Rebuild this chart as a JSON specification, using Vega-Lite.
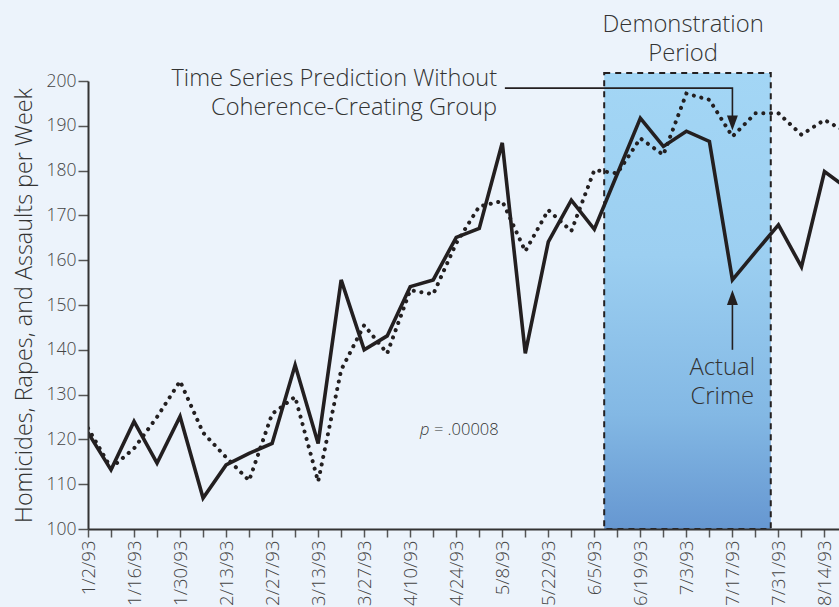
{
  "$schema": "https://vega.github.io/schema/vega-lite/v6.json",
  "width": 751,
  "height": 448,
  "autosize": {"type": "none"},
  "padding": {"left": 88, "top": 81, "right": 0, "bottom": 78},
  "background": "#ecf3fb",
  "config": {"view": {"stroke": null}, "font": "Open Sans"},
  "encoding": {
    "x": {
      "field": "date",
      "type": "temporal",
      "scale": {"domain": [{"year": 1993, "month": 1, "date": 2}, {"year": 1993, "month": 8, "date": 18, "hours": 10}]},
      "axis": {
        "title": null,
        "grid": false,
        "values": [
          {"year": 1993, "month": 1, "date": 2}, {"year": 1993, "month": 1, "date": 9}, {"year": 1993, "month": 1, "date": 16}, {"year": 1993, "month": 1, "date": 23}, {"year": 1993, "month": 1, "date": 30},
          {"year": 1993, "month": 2, "date": 6}, {"year": 1993, "month": 2, "date": 13}, {"year": 1993, "month": 2, "date": 20}, {"year": 1993, "month": 2, "date": 27},
          {"year": 1993, "month": 3, "date": 6}, {"year": 1993, "month": 3, "date": 13}, {"year": 1993, "month": 3, "date": 20}, {"year": 1993, "month": 3, "date": 27},
          {"year": 1993, "month": 4, "date": 3}, {"year": 1993, "month": 4, "date": 10}, {"year": 1993, "month": 4, "date": 17}, {"year": 1993, "month": 4, "date": 24},
          {"year": 1993, "month": 5, "date": 1}, {"year": 1993, "month": 5, "date": 8}, {"year": 1993, "month": 5, "date": 15}, {"year": 1993, "month": 5, "date": 22}, {"year": 1993, "month": 5, "date": 29},
          {"year": 1993, "month": 6, "date": 5}, {"year": 1993, "month": 6, "date": 12}, {"year": 1993, "month": 6, "date": 19}, {"year": 1993, "month": 6, "date": 26},
          {"year": 1993, "month": 7, "date": 3}, {"year": 1993, "month": 7, "date": 10}, {"year": 1993, "month": 7, "date": 17}, {"year": 1993, "month": 7, "date": 24}, {"year": 1993, "month": 7, "date": 31},
          {"year": 1993, "month": 8, "date": 7}, {"year": 1993, "month": 8, "date": 14}
        ],
        "labelExpr": "round((datum.value - datetime(1993,0,2)) / 604800000) % 2 == 0 ? timeFormat(datum.value, '%-m/%-d/%y') : ''",
        "labelAngle": -90,
        "labelFont": "Open Sans",
        "labelFontWeight": 300,
        "labelFontSize": 18.5,
        "labelColor": "#444444",
        "labelPadding": 3,
        "labelOverlap": false,
        "labelFlush": false,
        "tickSize": 8,
        "tickWidth": 1.5,
        "tickColor": "#555555",
        "domainColor": "#333333",
        "domainWidth": 2,
        "zindex": 1
      }
    },
    "y": {
      "field": "value",
      "type": "quantitative",
      "scale": {"domain": [100, 200], "nice": false, "zero": false},
      "axis": {
        "title": "Homicides, Rapes, and Assaults per Week",
        "titleFont": "Open Sans",
        "titleFontWeight": 300,
        "titleFontSize": 23.4,
        "titleColor": "#333333",
        "titlePadding": 10,
        "grid": false,
        "values": [100, 110, 120, 130, 140, 150, 160, 170, 180, 190, 200],
        "labelFont": "Open Sans",
        "labelFontWeight": 300,
        "labelFontSize": 17.5,
        "labelColor": "#444444",
        "labelPadding": 2,
        "tickSize": 10,
        "tickWidth": 1.5,
        "tickColor": "#555555",
        "domainColor": "#333333",
        "domainWidth": 2,
        "zindex": 1
      }
    }
  },
  "layer": [
    {
      "data": {
        "values": [{"date": "1993-06-08T00:00", "date2": "1993-07-28T16:00", "value": 201.8, "value2": 100}],
        "format": {"parse": {"date": "date", "date2": "date"}}
      },
      "mark": {
        "type": "rect",
        "fill": {"gradient": "linear", "x1": 0, "y1": 0, "x2": 0, "y2": 1, "stops": [
          {"offset": 0, "color": "#a3d6f5"},
          {"offset": 0.4, "color": "#9ccff1"},
          {"offset": 0.75, "color": "#83b8e4"},
          {"offset": 1, "color": "#6697d1"}
        ]},
        "stroke": "#231f20",
        "strokeWidth": 2,
        "strokeDash": [6, 5]
      },
      "encoding": {"x2": {"field": "date2"}, "y2": {"field": "value2"}}
    },
    {
      "data": {
        "name": "crime",
        "values": [
          {"date": "1993-01-02T00:00", "actual": 121.5, "predicted": 122.5},
          {"date": "1993-01-09T00:00", "actual": 113.2, "predicted": 113.6},
          {"date": "1993-01-16T00:00", "actual": 124.0, "predicted": 118.0},
          {"date": "1993-01-23T00:00", "actual": 114.7, "predicted": 125.0},
          {"date": "1993-01-30T00:00", "actual": 125.1, "predicted": 133.0},
          {"date": "1993-02-06T00:00", "actual": 106.9, "predicted": 121.5},
          {"date": "1993-02-13T00:00", "actual": 114.3, "predicted": 116.0},
          {"date": "1993-02-20T00:00", "actual": 116.9, "predicted": 110.8},
          {"date": "1993-02-27T00:00", "actual": 119.1, "predicted": 125.7},
          {"date": "1993-03-06T00:00", "actual": 136.6, "predicted": 129.5},
          {"date": "1993-03-13T00:00", "actual": 119.1, "predicted": 110.6},
          {"date": "1993-03-20T00:00", "actual": 155.6, "predicted": 135.5},
          {"date": "1993-03-27T00:00", "actual": 140.0, "predicted": 145.5},
          {"date": "1993-04-03T00:00", "actual": 143.1, "predicted": 139.2},
          {"date": "1993-04-10T00:00", "actual": 154.1, "predicted": 153.3},
          {"date": "1993-04-17T00:00", "actual": 155.6, "predicted": 152.4},
          {"date": "1993-04-24T00:00", "actual": 165.1, "predicted": 163.8},
          {"date": "1993-05-01T00:00", "actual": 167.1, "predicted": 172.0},
          {"date": "1993-05-08T00:00", "actual": 186.2, "predicted": 173.2},
          {"date": "1993-05-15T00:00", "actual": 139.2, "predicted": 162.0},
          {"date": "1993-05-22T00:00", "actual": 164.1, "predicted": 171.2},
          {"date": "1993-05-29T00:00", "actual": 173.4, "predicted": 166.5},
          {"date": "1993-06-05T00:00", "actual": 166.9, "predicted": 180.1},
          {"date": "1993-06-12T00:00", "actual": 179.3, "predicted": 179.4},
          {"date": "1993-06-19T00:00", "actual": 191.7, "predicted": 187.2},
          {"date": "1993-06-26T00:00", "actual": 185.4, "predicted": 183.5},
          {"date": "1993-07-03T00:00", "actual": 188.8, "predicted": 197.2},
          {"date": "1993-07-10T00:00", "actual": 186.5, "predicted": 195.8},
          {"date": "1993-07-17T00:00", "actual": 155.6, "predicted": 187.6},
          {"date": "1993-07-24T00:00", "actual": 161.8, "predicted": 192.8},
          {"date": "1993-07-31T00:00", "actual": 167.9, "predicted": 192.8},
          {"date": "1993-08-07T00:00", "actual": 158.5, "predicted": 188.0},
          {"date": "1993-08-14T00:00", "actual": 179.8, "predicted": 191.3},
          {"date": "1993-08-21T00:00", "actual": 176.0, "predicted": 188.5}
        ],
        "format": {"parse": {"date": "date"}}
      },
      "transform": [{"fold": ["actual", "predicted"], "as": ["series", "value"]}],
      "layer": [
        {
          "transform": [{"filter": "datum.series == 'predicted'"}],
          "mark": {"type": "line", "color": "#231f20", "strokeWidth": 4, "strokeDash": [0.1, 7.6], "strokeCap": "round", "clip": true}
        },
        {
          "transform": [{"filter": "datum.series == 'actual'"}],
          "mark": {"type": "line", "color": "#231f20", "strokeWidth": 3.6, "strokeJoin": "miter", "clip": true}
        }
      ]
    },
    {
      "data": {
        "values": [
          {"date": "1993-05-08T19:00", "value": 198.4, "step": 1},
          {"date": "1993-07-17T00:00", "value": 198.4, "step": 2},
          {"date": "1993-07-17T00:00", "value": 191.0, "step": 3}
        ],
        "format": {"parse": {"date": "date"}}
      },
      "mark": {"type": "line", "color": "#231f20", "strokeWidth": 1.6},
      "encoding": {"order": {"field": "step", "type": "quantitative"}}
    },
    {
      "data": {
        "values": [
          {"date": "1993-07-17T00:00", "value": 140.0, "step": 1},
          {"date": "1993-07-17T00:00", "value": 150.5, "step": 2}
        ],
        "format": {"parse": {"date": "date"}}
      },
      "mark": {"type": "line", "color": "#231f20", "strokeWidth": 1.6},
      "encoding": {"order": {"field": "step", "type": "quantitative"}}
    },
    {
      "data": {
        "values": [{"date": "1993-07-17T00:00", "value": 190.6}],
        "format": {"parse": {"date": "date"}}
      },
      "mark": {"type": "point", "shape": "M-0.73,-1L0.73,-1L0,1Z", "size": 225, "filled": true, "color": "#231f20", "opacity": 1}
    },
    {
      "data": {
        "values": [{"date": "1993-07-17T00:00", "value": 151.7}],
        "format": {"parse": {"date": "date"}}
      },
      "mark": {"type": "point", "shape": "M-0.73,1L0.73,1L0,-1Z", "size": 225, "filled": true, "color": "#231f20", "opacity": 1}
    },
    {
      "data": {
        "values": [
          {"date": "1993-07-02T00:00", "value": 211.0, "label": "Demonstration\nPeriod"},
          {"date": "1993-07-13T22:00", "value": 134.4, "label": "Actual\nCrime"}
        ],
        "format": {"parse": {"date": "date"}}
      },
      "mark": {"type": "text", "font": "Open Sans", "fontWeight": 300, "fontSize": 23.8, "color": "#333333", "align": "center", "baseline": "alphabetic", "lineBreak": "\n", "lineHeight": 29},
      "encoding": {"text": {"field": "label"}}
    },
    {
      "data": {
        "values": [
          {"date": "1993-05-06T10:00", "value": 198.9, "label": "Time Series Prediction Without\nCoherence-Creating Group"}
        ],
        "format": {"parse": {"date": "date"}}
      },
      "mark": {"type": "text", "font": "Open Sans", "fontWeight": 300, "fontSize": 23.6, "color": "#333333", "align": "right", "baseline": "alphabetic", "lineBreak": "\n", "lineHeight": 29},
      "encoding": {"text": {"field": "label"}}
    },
    {
      "data": {
        "values": [{"date": "1993-04-12T23:00", "value": 121.0, "label": "p"}],
        "format": {"parse": {"date": "date"}}
      },
      "mark": {"type": "text", "font": "Open Sans", "fontWeight": 300, "fontStyle": "italic", "fontSize": 16.5, "color": "#333333", "align": "left", "baseline": "alphabetic"},
      "encoding": {"text": {"field": "label"}}
    },
    {
      "data": {
        "values": [{"date": "1993-04-17T05:00", "value": 121.0, "label": "= .00008"}],
        "format": {"parse": {"date": "date"}}
      },
      "mark": {"type": "text", "font": "Open Sans", "fontWeight": 300, "fontSize": 16.5, "color": "#333333", "align": "left", "baseline": "alphabetic"},
      "encoding": {"text": {"field": "label"}}
    }
  ]
}
